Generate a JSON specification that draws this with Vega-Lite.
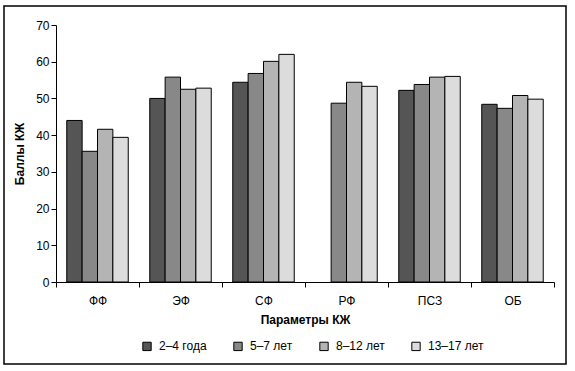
{
  "$schema": "https://vega.github.io/schema/vega-lite/v6.json",
  "width": 562,
  "height": 358,
  "autosize": {"type": "none"},
  "padding": {"left": 4, "top": 6, "right": 9, "bottom": 7},
  "background": "white",
  "config": {
    "font": "Liberation Sans",
    "view": {"stroke": "black", "strokeWidth": 1.5},
    "axis": {
      "domainColor": "black",
      "tickColor": "black",
      "labelColor": "black",
      "titleColor": "black",
      "labelFont": "Liberation Sans",
      "titleFont": "Liberation Sans",
      "labelFontSize": 12,
      "titleFontSize": 12,
      "titleFontWeight": "bold",
      "grid": false,
      "tickSize": 5
    },
    "legend": {
      "labelFont": "Liberation Sans",
      "labelFontSize": 12,
      "labelColor": "black"
    }
  },
  "data": {
    "values": [
      {"param": "ФФ", "age": "2–4 года", "score": 44.0},
      {"param": "ФФ", "age": "5–7 лет", "score": 35.6},
      {"param": "ФФ", "age": "8–12 лет", "score": 41.6},
      {"param": "ФФ", "age": "13–17 лет", "score": 39.4},
      {"param": "ЭФ", "age": "2–4 года", "score": 50.0},
      {"param": "ЭФ", "age": "5–7 лет", "score": 55.8},
      {"param": "ЭФ", "age": "8–12 лет", "score": 52.5},
      {"param": "ЭФ", "age": "13–17 лет", "score": 52.8},
      {"param": "СФ", "age": "2–4 года", "score": 54.4},
      {"param": "СФ", "age": "5–7 лет", "score": 56.8},
      {"param": "СФ", "age": "8–12 лет", "score": 60.1},
      {"param": "СФ", "age": "13–17 лет", "score": 62.0},
      {"param": "РФ", "age": "5–7 лет", "score": 48.7},
      {"param": "РФ", "age": "8–12 лет", "score": 54.4},
      {"param": "РФ", "age": "13–17 лет", "score": 53.3},
      {"param": "ПСЗ", "age": "2–4 года", "score": 52.2},
      {"param": "ПСЗ", "age": "5–7 лет", "score": 53.8},
      {"param": "ПСЗ", "age": "8–12 лет", "score": 55.8},
      {"param": "ПСЗ", "age": "13–17 лет", "score": 56.0},
      {"param": "ОБ", "age": "2–4 года", "score": 48.4},
      {"param": "ОБ", "age": "5–7 лет", "score": 47.3},
      {"param": "ОБ", "age": "8–12 лет", "score": 50.8},
      {"param": "ОБ", "age": "13–17 лет", "score": 49.8}
    ]
  },
  "mark": {"type": "bar", "stroke": "black", "strokeWidth": 1},
  "encoding": {
    "x": {
      "field": "param",
      "type": "nominal",
      "sort": ["ФФ", "ЭФ", "СФ", "РФ", "ПСЗ", "ОБ"],
      "scale": {"range": [52, 550], "paddingInner": 0, "paddingOuter": 0},
      "axis": {
        "title": "Параметры КЖ",
        "labelAngle": 0,
        "offset": -82,
        "tickBand": "extent",
        "labelPadding": 8,
        "titlePadding": 8
      }
    },
    "xOffset": {
      "field": "age",
      "type": "nominal",
      "sort": ["2–4 года", "5–7 лет", "8–12 лет", "13–17 лет"],
      "scale": {"paddingInner": 0, "paddingOuter": 0.7}
    },
    "y": {
      "field": "score",
      "type": "quantitative",
      "scale": {"domain": [0, 70], "range": [276, 19], "nice": false},
      "axis": {
        "title": "Баллы КЖ",
        "values": [0, 10, 20, 30, 40, 50, 60, 70],
        "offset": -52,
        "labelPadding": 2,
        "titlePadding": 9
      }
    },
    "color": {
      "field": "age",
      "type": "nominal",
      "scale": {
        "domain": ["2–4 года", "5–7 лет", "8–12 лет", "13–17 лет"],
        "range": ["#555555", "#888888", "#b4b4b4", "#dcdcdc"]
      },
      "legend": {
        "title": null,
        "orient": "none",
        "direction": "horizontal",
        "legendX": 137,
        "legendY": 334,
        "symbolType": "square",
        "symbolSize": 70,
        "symbolStrokeColor": "black",
        "symbolStrokeWidth": 1,
        "symbolOpacity": 1,
        "columnPadding": 24,
        "labelOffset": 6
      }
    }
  }
}
